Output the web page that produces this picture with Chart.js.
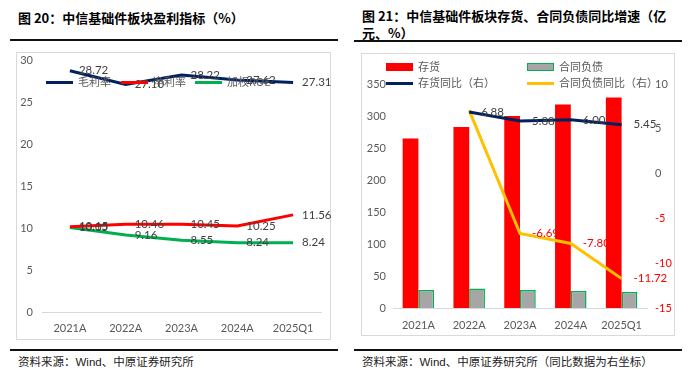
<!DOCTYPE html>
<html>
<head>
<meta charset="utf-8">
<script src="https://cdn.jsdelivr.net/npm/chart.js@4.4.1/dist/chart.umd.min.js"></script>
<style>
  html, body { margin:0; padding:0; background:#fff; }
  body { width:700px; height:375px; position:relative; overflow:hidden;
         font-family: Lato, "Noto Sans CJK SC", sans-serif; }
  .abs { position:absolute; }
  .title { font-family: "Noto Sans CJK SC", sans-serif; font-weight:bold; font-size:13px; color:#000; white-space:nowrap; line-height:17px; }
  .rule { height:2px; background:#111; }
  .box { border:1px solid #d9d9d9; box-sizing:border-box; }
  .foot { font-family: "Noto Sans CJK SC", sans-serif; font-size:11.5px; color:#222; white-space:nowrap; }
  .foot .w { font-family: "Liberation Sans", Arial, sans-serif; }
  .lg { font-family: "Noto Sans CJK SC", sans-serif; font-size:11px; color:#595959; white-space:nowrap; line-height:12px; }
</style>
</head>
<body>
<!-- Left chart frame -->
<div class="abs title" style="left:18px;top:9px;">图 20：中信基础件板块盈利指标（%）</div>
<div class="abs rule" style="left:10px;top:39px;width:328px;"></div>
<div class="abs box" style="left:16px;top:52px;width:315px;height:288px;"></div>
<canvas id="c1" class="abs" style="left:16px;top:52px;" width="315" height="288"></canvas>
<div class="abs rule" style="left:10px;top:349px;width:328px;"></div>
<div class="abs foot" style="left:18px;top:353px;">资料来源：<span class="w">Wind</span>、中原证券研究所</div>

<!-- Right chart frame -->
<div class="abs title" style="left:362px;top:7px;">图 21：中信基础件板块存货、合同负债同比增速（亿</div>
<div class="abs title" style="left:362px;top:24px;">元、%）</div>
<div class="abs rule" style="left:354px;top:40px;width:328px;"></div>
<div class="abs box" style="left:361px;top:53px;width:314px;height:283px;"></div>
<canvas id="c2" class="abs" style="left:361px;top:53px;" width="314" height="283"></canvas>
<div class="abs rule" style="left:354px;top:349px;width:328px;"></div>
<div class="abs foot" style="left:362px;top:353px;">资料来源：<span class="w">Wind</span>、中原证券研究所（同比数据为右坐标）</div>

<!-- Legends (HTML overlay) -->
<div id="leg1"></div>
<div id="leg2"></div>

<script>
// ---------------- DATA ----------------
const categories = ["2021A", "2022A", "2023A", "2024A", "2025Q1"];

// Left chart: profitability (%)
const grossMargin = [28.72, 27.10, 28.22, 27.62, 27.31];   // 毛利率
const netMargin   = [10.15, 10.46, 10.45, 10.25, 11.56];   // 净利率
const weightedROE = [10.05, 9.16, 8.55, 8.24, 8.24];       // 加权ROE
const leftTicks = [0, 5, 10, 15, 20, 25, 30];

// Right chart: inventory & contract liabilities
const inventory          = [265, 283, 300, 318, 329];      // 存货 (亿元)
const contractLiab       = [28, 30.5, 28, 26.5, 25];       // 合同负债 (亿元)
const inventoryYoY       = [null, 6.88, 5.88, 6.00, 5.45]; // 存货同比（右）
const contractLiabYoY    = [null, 7.05, -6.69, -7.80, -11.72]; // 合同负债同比（右）
const rightLeftTicks  = [0, 50, 100, 150, 200, 250, 300, 350];
const rightRightTicks = [-15, -10, -5, 0, 5, 10];

// ---------------- STYLE ----------------
const NAVY = "#002060", RED = "#FF0000", GREEN = "#00B050", YELLOW = "#FFC000", GRAY_BAR = "#A6A6A6";
const TXT = "#595959", AXIS = "#D9D9D9";
const tickFont = { family: "Lato, 'Noto Sans CJK SC', sans-serif", size: 11 };

Chart.defaults.animation = false;
Chart.defaults.font.family = tickFont.family;

const valueLabels = {
  id: "valueLabels",
  afterDatasetsDraw(chart, args, opts) {
    const ctx = chart.ctx;
    chart.data.datasets.forEach((ds, i) => {
      if (!ds.labelColor) return;
      const meta = chart.getDatasetMeta(i);
      meta.data.forEach((el, j) => {
        const v = ds.data[j];
        if (v == null) return;
        if (ds.skipLabels && ds.skipLabels.includes(j)) return;
        ctx.save();
        ctx.font = "11.5px " + tickFont.family;
        ctx.fillStyle = ds.labelColor;
        ctx.textAlign = "left";
        ctx.textBaseline = "middle";
        ctx.fillText(v.toFixed(2), el.x + (opts.offset || 10), el.y);
        ctx.restore();
      });
    });
  }
};

function fixW(w) { return function(axis) { axis.width = w; axis.paddingTop = 0; axis.paddingBottom = 0; }; }
function fixH(h) { return function(axis) { axis.height = h; }; }

// ---------------- LEFT CHART ----------------
new Chart(document.getElementById("c1"), {
  type: "line",
  data: {
    labels: categories,
    datasets: [
      { label: "毛利率", data: grossMargin, borderColor: NAVY, borderWidth: 3, pointRadius: 0, labelColor: "#404040" },
      { label: "净利率", data: netMargin, borderColor: RED, borderWidth: 3, pointRadius: 0, labelColor: "#404040" },
      { label: "加权ROE", data: weightedROE, borderColor: GREEN, borderWidth: 3, pointRadius: 0, labelColor: "#404040" }
    ]
  },
  options: {
    responsive: false,
    layout: { padding: { top: 8, right: 10, left: 0, bottom: 0 } },
    plugins: { legend: { display: false }, tooltip: { enabled: false }, valueLabels: { offset: 9 } },
    scales: {
      x: {
        offset: true,
        grid: { display: false, drawTicks: false, offset: true },
        border: { display: true, color: AXIS, width: 1 },
        ticks: { color: TXT, font: tickFont, padding: 10, maxRotation: 0 },
        afterFit: fixH(28)
      },
      y: {
        min: 0, max: 30,
        afterBuildTicks: (axis) => { axis.ticks = leftTicks.map(v => ({ value: v })); },
        grid: { display: false, drawTicks: false },
        border: { display: false },
        ticks: { color: TXT, font: tickFont, padding: 9 },
        afterFit: fixW(26)
      }
    }
  },
  plugins: [valueLabels]
});

// ---------------- RIGHT CHART ----------------
new Chart(document.getElementById("c2"), {
  data: {
    labels: categories,
    datasets: [
      { type: "line", label: "存货同比（右）", data: inventoryYoY, yAxisID: "y1", borderColor: NAVY, borderWidth: 3, pointRadius: 0, order: 1, labelColor: "#404040" },
      { type: "line", label: "合同负债同比（右）", data: contractLiabYoY, yAxisID: "y1", borderColor: YELLOW, borderWidth: 3, pointRadius: 0, order: 1, labelColor: RED, skipLabels: [1] },
      { type: "bar", label: "存货", data: inventory, yAxisID: "y", backgroundColor: RED, borderWidth: 0, order: 2, barPercentage: 1, categoryPercentage: 0.62 },
      { type: "bar", label: "合同负债", data: contractLiab, yAxisID: "y", backgroundColor: GRAY_BAR, borderColor: GREEN, borderWidth: 1.5, order: 2, barPercentage: 1, categoryPercentage: 0.62 }
    ]
  },
  options: {
    responsive: false,
    layout: { padding: { top: 31, right: 0, left: 0, bottom: 0 } },
    plugins: { legend: { display: false }, tooltip: { enabled: false }, valueLabels: { offset: 12 } },
    scales: {
      x: {
        grid: { display: false, drawTicks: false },
        border: { display: true, color: AXIS, width: 1 },
        ticks: { color: TXT, font: tickFont, padding: 11, maxRotation: 0 },
        afterFit: fixH(28)
      },
      y: {
        position: "left",
        min: 0, max: 350,
        afterBuildTicks: (axis) => { axis.ticks = rightLeftTicks.map(v => ({ value: v })); },
        grid: { display: false, drawTicks: false },
        border: { display: false },
        ticks: { color: TXT, font: tickFont, padding: 7 },
        afterFit: fixW(32)
      },
      y1: {
        position: "right",
        min: -15, max: 10,
        afterBuildTicks: (axis) => { axis.ticks = rightRightTicks.map(v => ({ value: v })); },
        grid: { display: false, drawTicks: false },
        border: { display: false },
        ticks: { color: (c) => (c.tick && c.tick.value < 0 ? RED : TXT), font: tickFont, padding: 8 },
        afterFit: fixW(28)
      }
    }
  },
  plugins: [valueLabels]
});

// ---------------- LEGENDS (HTML overlay) ----------------
function legendItem(parent, x, y, swatch, text) {
  const s = document.createElement("div");
  s.className = "abs";
  s.style.left = x + "px";
  s.style.width = "27px";
  s.style.boxSizing = "border-box";
  if (swatch.type === "line") {
    s.style.top = (y - 1.5) + "px"; s.style.height = "3px"; s.style.background = swatch.color;
  } else {
    s.style.top = (y - 4) + "px"; s.style.height = "8px"; s.style.background = swatch.color;
    if (swatch.border) s.style.border = "1.5px solid " + swatch.border;
  }
  parent.appendChild(s);
  const t = document.createElement("div");
  t.className = "abs lg";
  t.style.left = (x + 32) + "px";
  t.style.top = (y - 7) + "px";
  t.textContent = text;
  parent.appendChild(t);
}
const leg1 = document.getElementById("leg1");
legendItem(leg1, 46, 82, { type: "line", color: NAVY }, "毛利率");
legendItem(leg1, 121, 82, { type: "line", color: RED }, "净利率");
legendItem(leg1, 195, 82, { type: "line", color: GREEN }, "加权ROE");

const leg2 = document.getElementById("leg2");
legendItem(leg2, 386, 67, { type: "rect", color: RED }, "存货");
legendItem(leg2, 527, 67, { type: "rect", color: GRAY_BAR, border: GREEN }, "合同负债");
legendItem(leg2, 386, 83, { type: "line", color: NAVY }, "存货同比（右）");
legendItem(leg2, 527, 83, { type: "line", color: YELLOW }, "合同负债同比（右）");
</script>
</body>
</html>
